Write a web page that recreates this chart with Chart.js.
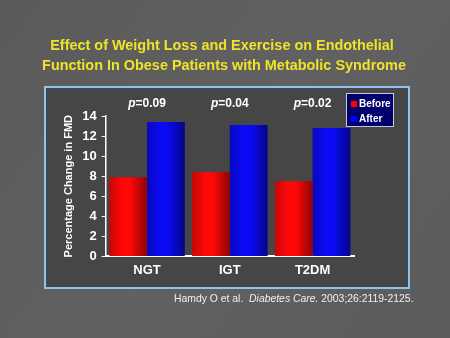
<!DOCTYPE html>
<html>
<head>
<meta charset="utf-8">
<script src="https://cdn.jsdelivr.net/npm/chart.js@4/dist/chart.umd.min.js"></script>
<style>
  html, body { margin: 0; padding: 0; background: #5c5c5c; }
  #wrap { width: 450px; height: 338px; }
</style>
</head>
<body>
<div id="wrap"><canvas id="chartFmd" width="450" height="338"></canvas></div>
<script>
var categories = ["NGT", "IGT", "T2DM"];
var beforeValues = [7.9, 8.4, 7.5];
var afterValues = [13.4, 13.1, 12.8];
var pValues = ["0.09", "0.04", "0.02"];
var yTicks = [0, 2, 4, 6, 8, 10, 12, 14];
var titleLines = ['Effect of Weight Loss and Exercise on Endothelial',
                  'Function In Obese Patients with Metabolic Syndrome'];

var FONT = "'Liberation Sans', Arial, sans-serif";

// slide background, framed panel, title, legend, p-values and citation
var slidePlugin = {
  id: 'slide',
  beforeDraw: function (chart) {
    var c = chart.ctx;
    c.save();
    var bg = c.createLinearGradient(0, 0, chart.width, chart.height);
    bg.addColorStop(0, '#5a5a5a');
    bg.addColorStop(0.5, '#616161');
    bg.addColorStop(1, '#5b5b5b');
    c.fillStyle = bg;
    c.fillRect(0, 0, chart.width, chart.height);
    c.fillStyle = '#464646';
    c.fillRect(45, 87, 364, 201);
    c.strokeStyle = '#8cc4ee';
    c.lineWidth = 2;
    c.strokeRect(45, 87, 364, 201);

    // title, sized so the second line spans ~364px
    c.font = 'bold 16px ' + FONT;
    var size = 16 * 364 / c.measureText(titleLines[1]).width;
    c.font = 'bold ' + size.toFixed(2) + 'px ' + FONT;
    c.fillStyle = '#efe32a';
    c.textAlign = 'center';
    c.textBaseline = 'middle';
    c.fillText(titleLines[0], 222, 46);
    c.fillText(titleLines[1], 224, 66);
    c.restore();
  },
  afterDatasetsDraw: function (chart) {
    var c = chart.ctx;
    c.save();
    // shading so bars look rounded
    chart.data.datasets.forEach(function (ds, di) {
      chart.getDatasetMeta(di).data.forEach(function (bar) {
        var p = bar.getProps(['x', 'y', 'base', 'width'], true);
        var l = p.x - p.width / 2, r = p.x + p.width / 2;
        var g = c.createLinearGradient(l, 0, r, 0);
        g.addColorStop(0, 'rgba(0,0,0,0.22)');
        g.addColorStop(0.35, 'rgba(0,0,0,0)');
        g.addColorStop(0.55, 'rgba(0,0,0,0)');
        g.addColorStop(1, 'rgba(0,0,0,0.45)');
        c.fillStyle = g;
        c.fillRect(l, p.y, p.width, p.base - p.y);
      });
    });
    c.restore();
  },
  afterDraw: function (chart) {
    var c = chart.ctx;
    var x = chart.scales.x;
    c.save();
    // p-values
    c.fillStyle = '#ffffff';
    c.textBaseline = 'middle';
    pValues.forEach(function (pv, i) {
      var cx = x.getPixelForValue(i);
      c.font = 'italic bold 12px ' + FONT;
      var w1 = c.measureText('p').width;
      c.font = 'bold 12px ' + FONT;
      var w2 = c.measureText('=' + pv).width;
      var sx = cx - (w1 + w2) / 2;
      c.font = 'italic bold 12px ' + FONT;
      c.textAlign = 'left';
      c.fillText('p', sx, 104);
      c.font = 'bold 12px ' + FONT;
      c.fillText('=' + pv, sx + w1, 104);
    });
    // legend
    c.fillStyle = '#00006c';
    c.fillRect(346, 93, 47, 33);
    c.strokeStyle = '#c8c8dc';
    c.lineWidth = 1;
    c.strokeRect(346.5, 93.5, 47, 33);
    c.fillStyle = '#ff0000';
    c.fillRect(351, 101, 6, 6);
    c.fillStyle = '#0000ff';
    c.fillRect(351, 116, 6, 6);
    c.fillStyle = '#ffffff';
    c.font = 'bold 10px ' + FONT;
    c.fillText('Before', 359, 104);
    c.fillText('After', 359, 119);
    // citation
    c.fillStyle = '#f0f0f0';
    c.textBaseline = 'alphabetic';
    var cx0 = 174, cy = 302;
    c.font = '10.4px ' + FONT;
    c.fillText('Hamdy O et al.  ', cx0, cy);
    cx0 += c.measureText('Hamdy O et al.  ').width;
    c.font = 'italic 10.4px ' + FONT;
    c.fillText('Diabetes Care.', cx0, cy);
    cx0 += c.measureText('Diabetes Care.').width;
    c.font = '10.4px ' + FONT;
    c.fillText(' 2003;26:2119-2125.', cx0, cy);
    c.restore();
  }
};

new Chart(document.getElementById('chartFmd'), {
  type: 'bar',
  data: {
    labels: categories,
    datasets: [
      { label: 'Before', data: beforeValues, backgroundColor: '#ff0808', borderWidth: 0 },
      { label: 'After', data: afterValues, backgroundColor: '#0a0af4', borderWidth: 0 }
    ]
  },
  options: {
    responsive: false,
    animation: false,
    devicePixelRatio: 1,
    layout: { padding: { left: 62, right: 96, top: 116, bottom: 54 } },
    datasets: {
      bar: { categoryPercentage: 0.91, barPercentage: 1.0 }
    },
    plugins: {
      legend: { display: false },
      tooltip: { enabled: false },
      title: { display: false }
    },
    scales: {
      x: {
        grid: { display: true, drawOnChartArea: false, drawTicks: false },
        border: { color: '#ffffff', width: 2 },
        ticks: { color: '#ffffff', padding: 6, font: { family: FONT, size: 13, weight: 'bold' } }
      },
      y: {
        min: 0,
        max: 14,
        afterBuildTicks: function (scale) {
          scale.ticks = yTicks.map(function (v) { return { value: v }; });
        },
        grid: { drawOnChartArea: false, drawTicks: true, tickLength: 4, color: '#ffffff', lineWidth: 1 },
        border: { color: '#ffffff', width: 1.5 },
        ticks: { color: '#ffffff', padding: 5, font: { family: FONT, size: 13, weight: 'bold' } },
        title: {
          display: true,
          text: 'Percentage Change in FMD',
          color: '#ffffff',
          font: { family: FONT, size: 11, weight: 'bold' },
          padding: { top: 0, bottom: 2 }
        }
      }
    }
  },
  plugins: [slidePlugin]
});
</script>
</body>
</html>
